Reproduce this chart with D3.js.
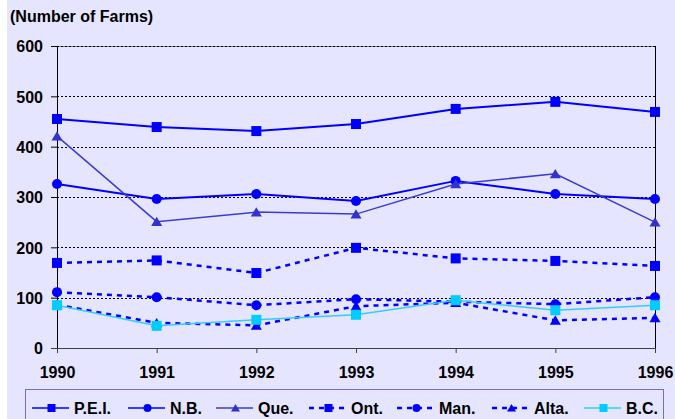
<!DOCTYPE html>
<html><head><meta charset="utf-8">
<script src="https://cdn.jsdelivr.net/npm/d3@7"></script>
<style>body{margin:0;background:#fff}svg{display:block}text{font-family:"Liberation Sans",Arial,sans-serif;font-weight:bold;fill:#000}</style>
</head><body><svg id="c" width="675" height="419"></svg>
<script>
const years = [1990,1991,1992,1993,1994,1995,1996];
const yTicks = [0,100,200,300,400,500,600];
const seriesNames = ["P.E.I.","N.B.","Que.","Ont.","Man.","Alta.","B.C."];
const pei  = [455,439,431,445,475,489,469];
const nb   = [326,296,306,292,332,306,296];
const que  = [421,251,270,266,326,346,250];
const ont  = [169,174,149,199,178,173,163];
const man  = [111,101,85,97,92,87,101];
const alta = [86,50,45,83,90,55,60];
const bc   = [85,44,56,66,95,75,85];
const values = [pei,nb,que,ont,man,alta,bc];

const styles = [
  {color:"#0000FF", mcolor:"#0000FF", w:2,   dash:null,  shape:"square",   ms:10},
  {color:"#0000FF", mcolor:"#0000FF", w:2,   dash:null,  shape:"circle",   ms:10},
  {color:"#3C3CCC", mcolor:"#3333CC", w:1.5, dash:null,  shape:"triangle", ms:11},
  {color:"#0000FF", mcolor:"#0000FF", w:2.5, dash:"5,5", shape:"square",   ms:10},
  {color:"#0000FF", mcolor:"#0000FF", w:2.5, dash:"5,5", shape:"circle",   ms:10},
  {color:"#0000FF", mcolor:"#0000FF", w:2.5, dash:"5,5", shape:"triangle", ms:11},
  {color:"#33CCFF", mcolor:"#00CCFF", w:1.5, dash:null,  shape:"square",   ms:10}
];

const svg = d3.select("#c");
svg.append("rect").attr("x",7).attr("y",0).attr("width",668).attr("height",419).attr("fill","#E5E5FF");

const x = d3.scalePoint().domain(years).range([57,655]);
const y = d3.scaleLinear().domain([0,600]).range([348,46]);

// title
svg.append("text").attr("x",10).attr("y",22).style("font-size","16px").text("(Number of Farms)");

// top frame gray
svg.append("line").attr("x1",51).attr("x2",655).attr("y1",46.5).attr("y2",46.5).attr("stroke","#808080").attr("stroke-width",1);
// gridlines
svg.append("g").selectAll("line").data(yTicks.filter(d=>d>0)).join("line")
  .attr("x1",57).attr("x2",655).attr("y1",d=>Math.round(y(d))+0.5).attr("y2",d=>Math.round(y(d))+0.5)
  .attr("stroke","#000").attr("stroke-width",1).attr("stroke-dasharray","2,2");
// right frame
svg.append("line").attr("x1",655.5).attr("x2",655.5).attr("y1",46).attr("y2",348).attr("stroke","#000");

// y axis
const ya = svg.append("g").attr("transform","translate(57,0)")
  .call(d3.axisLeft(y).tickValues(yTicks).tickSize(6).tickPadding(8));
ya.select(".domain").attr("stroke","#000");
ya.selectAll(".tick line").attr("stroke","#000");
ya.selectAll("text").style("font-size","16px").attr("font-family",null).attr("dy","0.36em");

// x axis
const xa = svg.append("g").attr("transform","translate(0,348)")
  .call(d3.axisBottom(x).tickSize(5).tickPadding(14).tickSizeOuter(0));
xa.select(".domain").attr("stroke","#404040").attr("d","M51,0.5H655");
xa.selectAll(".tick line").attr("stroke","#404040");
xa.selectAll("text").style("font-size","16px").attr("font-family",null);

function marker(g, shape, cx, cy, s, color){
  if(shape==="square") g.append("rect").attr("x",cx-s/2).attr("y",cy-s/2).attr("width",s).attr("height",s).attr("fill",color);
  else if(shape==="circle") g.append("circle").attr("cx",cx).attr("cy",cy).attr("r",s/2).attr("fill",color);
  else g.append("path").attr("d",`M${cx},${cy-s*0.45}L${cx+s/2},${cy+s*0.4}L${cx-s/2},${cy+s*0.4}Z`).attr("fill",color);
}

const line = d3.line().x((d,i)=>x(years[i])).y(d=>y(d));
const plot = svg.append("g");
values.forEach((vals,k)=>{
  const st = styles[k];
  const g = plot.append("g");
  g.append("path").attr("d",line(vals)).attr("fill","none").attr("stroke",st.color)
    .attr("stroke-width",st.w).attr("stroke-dasharray",st.dash);
  vals.forEach((v,i)=>marker(g, st.shape, x(years[i]), y(v), st.ms, st.mcolor));
});

// legend
const lg = svg.append("g");
lg.append("rect").attr("x",25.5).attr("y",389.5).attr("width",638).attr("height",40).attr("fill","#E5E5FF").attr("stroke","#7070D0");
const legLineX = [32,128,216,309,397,492,584];
const legY = 408;
seriesNames.forEach((n,k)=>{
  const st = styles[k];
  const x0 = legLineX[k], x1 = x0+37;
  lg.append("line").attr("x1",x0).attr("x2",x1).attr("y1",legY).attr("y2",legY)
    .attr("stroke",st.color).attr("stroke-width",st.dash?2.5:1.5).attr("stroke-dasharray",st.dash);
  marker(lg, st.shape, (x0+x1)/2+1, legY, st.shape==="triangle"?9:8, st.mcolor);
  lg.append("text").attr("x",x1+5).attr("y",legY+6).style("font-size","16px").text(n);
});
</script></body></html>
